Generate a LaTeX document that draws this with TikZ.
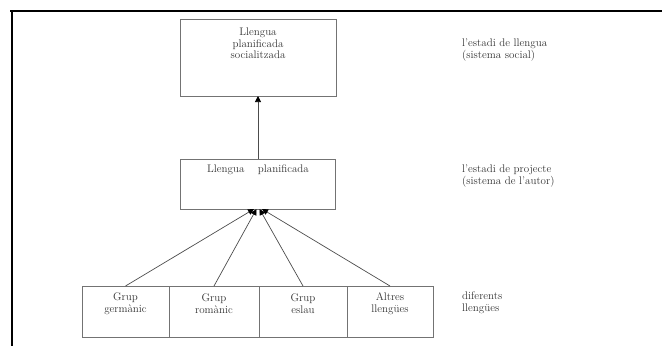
\documentclass[tikz,border=0pt]{standalone}
\usepackage{fontspec}
\usetikzlibrary{positioning}
\usetikzlibrary{arrows.meta}

\begin{document}
\begin{tikzpicture}[x=1pt,y=-1pt,
		stage/.style={draw=black!55, line width=0.9pt, inner sep=0pt, outer sep=0pt},
		boxtext/.style={align=center, inner sep=0pt, text=black!80, font=\fontsize{11}{11.5}\selectfont},
		side/.style={align=left, anchor=west, inner sep=0pt, text=black!80, font=\fontsize{11}{12}\selectfont},
		link/.style={black!70, line width=0.7pt, -{Triangle[length=6pt,width=6pt,color=black]}}]
		\useasboundingbox (0,0) rectangle (662,346);
		
		% frame
		\draw[line width=1.5pt] (10,11) -- (662,11);
		\draw[line width=1.5pt] (12,11) -- (12,346);
		
		% stages
		\node[stage, minimum width=156pt, minimum height=77pt] (social) at (258,57.5) {};
		\node[boxtext] (socialtxt) at (258,43.5) {Llengua\\planificada\\socialitzada};
		\node[stage, minimum width=155pt, minimum height=50pt] (project) at (258,184) {};
		\node[boxtext] (projecttxt) at (258,170) {Llengua\hspace{10pt} planificada};
		
		% languages
		\node[stage, minimum width=87pt, minimum height=51pt] (grm) at (125.5,311.5) {};
		\node[stage, minimum width=90pt, minimum height=51pt] (rom) at (214,311.5) {};
		\node[stage, minimum width=88pt, minimum height=51pt] (esl) at (303,311.5) {};
		\node[stage, minimum width=86pt, minimum height=51pt] (alt) at (390,311.5) {};
		\node[boxtext] (grmtxt) at (125.5,303.5) {Grup\\germànic};
		\node[boxtext] (romtxt) at (214,303.5) {Grup\\romànic};
		\node[boxtext] (esltxt) at (303,303.5) {Grup\\eslau};
		\node[boxtext] (alttxt) at (390,303.5) {Altres\\llengües};
		
		% arrows
		\draw[link] (project.north) -- (social.south);
		\draw[link] (grm.north) -- ([xshift=-4pt]project.south);
		\draw[link] (rom.north) -- ([xshift=-1.5pt]project.south);
		\draw[link] (esl.north) -- ([xshift=1.5pt]project.south);
		\draw[link] (alt.north) -- ([xshift=4pt]project.south);
		
		% side notes
		\node[side] (notesocial) at (462,50) {l’estadi de llengua\\(sistema social)};
		\node[side] (noteproject) at (462,176) {l’estadi de projecte\\(sistema de l’autor)};
		\node[side] (notelang) at (462,303) {diferents\\llengües};
	\end{tikzpicture}
\end{document}
